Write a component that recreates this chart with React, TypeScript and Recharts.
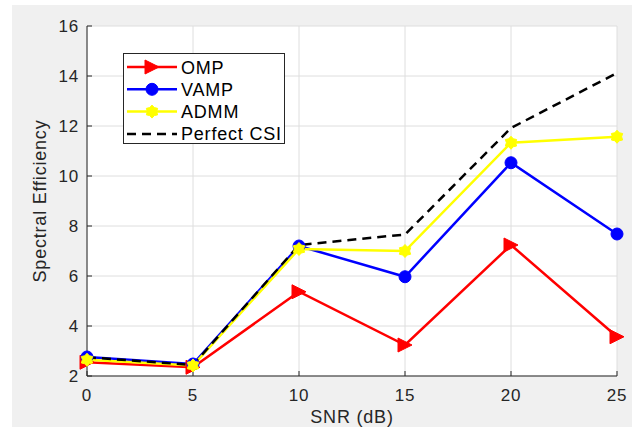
import React from "react";
import {
  CartesianGrid,
  Legend,
  Line,
  LineChart,
  XAxis,
  YAxis,
} from "recharts";

const snr = [0, 5, 10, 15, 20, 25];
const omp = [2.55, 2.35, 5.37, 3.24, 7.24, 3.57];
const vamp = [2.76, 2.48, 7.2, 5.97, 10.53, 7.68];
const admm = [2.65, 2.42, 7.08, 7.0, 11.33, 11.57];
const perfectCsi = [2.75, 2.44, 7.24, 7.66, 11.92, 14.12];

const xTicks = [0, 5, 10, 15, 20, 25];
const yTicks = [2, 4, 6, 8, 10, 12, 14, 16];

const data = snr.map((s, i) => ({
  snr: s,
  omp: omp[i],
  vamp: vamp[i],
  admm: admm[i],
  csi: perfectCsi[i],
}));

const ink = "#262626";
const tickStyle = { fill: ink, fontSize: 17 };

function Tri({ cx, cy }: { cx: number; cy: number }) {
  return (
    <polygon
      points={`${cx - 7},${cy - 7} ${cx + 7},${cy} ${cx - 7},${cy + 7}`}
      fill="#ff0000"
      stroke="#ff0000"
      strokeWidth={1}
    />
  );
}

function Dot({ cx, cy }: { cx: number; cy: number }) {
  return <circle cx={cx} cy={cy} r={6} fill="#0000ff" stroke="#0000ff" />;
}

// hexagram marker, drawn a bit plump like the MATLAB one
function Hex({ cx, cy }: { cx: number; cy: number }) {
  const pts: string[] = [];
  for (let k = 0; k < 12; k++) {
    const r = k % 2 === 0 ? 6.5 : 4.6;
    const a = (Math.PI / 6) * k - Math.PI / 2;
    pts.push(`${cx + r * Math.cos(a)},${cy + r * Math.sin(a)}`);
  }
  return <polygon points={pts.join(" ")} fill="#ffff00" stroke="#ffff00" />;
}

const entries = [
  { name: "OMP", color: "#ff0000", mark: Tri, dash: undefined },
  { name: "VAMP", color: "#0000ff", mark: Dot, dash: undefined },
  { name: "ADMM", color: "#ffff00", mark: Hex, dash: undefined },
  { name: "Perfect CSI", color: "#000000", mark: null, dash: "9 6" },
];

function LegendBox() {
  return (
    <svg width={163} height={92}>
      <rect x={0.5} y={0.5} width={161} height={90} fill="#fff" stroke={ink} />
      {entries.map((e, i) => {
        const y = 14 + i * 22.3;
        const M = e.mark;
        return (
          <g key={e.name}>
            <line
              x1={4}
              x2={54}
              y1={y}
              y2={y}
              stroke={e.color}
              strokeWidth={2.5}
              strokeDasharray={e.dash}
            />
            {M && <M cx={29} cy={y} />}
            <text x={58} y={y + 6.5} fontSize={18} fill="#000">
              {e.name}
            </text>
          </g>
        );
      })}
    </svg>
  );
}

export default function App() {
  return (
    <div
      style={{
        position: "absolute",
        left: 0,
        top: 0,
        width: 634,
        height: 430,
        background: "#fff",
        fontFamily: "'Liberation Sans', Arial, sans-serif",
        letterSpacing: "0.8px",
      }}
    >
      <div
        style={{
          position: "absolute",
          left: 12,
          top: 5,
          width: 620,
          height: 422,
          background: "#f0f0f0",
        }}
      />
      <div style={{ position: "absolute", left: 0, top: 0 }}>
        <LineChart
          width={634}
          height={430}
          data={data}
          margin={{ top: 26, right: 17, left: 0, bottom: 0 }}
        >
          <CartesianGrid stroke="#dedede" fill="#fff" />
          <XAxis
            dataKey="snr"
            type="number"
            domain={[0, 25]}
            ticks={xTicks}
            height={54}
            tickSize={-5}
            tickMargin={18}
            axisLine={{ stroke: ink }}
            tickLine={{ stroke: ink }}
            tick={tickStyle}
            label={{
              value: "SNR (dB)",
              position: "center",
              dy: 14,
              fill: ink,
              fontSize: 18,
            }}
          />
          <XAxis
            xAxisId="top"
            orientation="top"
            dataKey="snr"
            type="number"
            domain={[0, 25]}
            ticks={xTicks}
            height={0}
            tickSize={-5}
            tick={false}
            axisLine={{ stroke: ink }}
            tickLine={{ stroke: ink }}
          />
          <YAxis
            type="number"
            domain={[2, 16]}
            ticks={yTicks}
            width={87}
            tickSize={-5}
            tickMargin={13}
            axisLine={{ stroke: ink }}
            tickLine={{ stroke: ink }}
            tick={tickStyle}
            label={{
              value: "Spectral Efficiency",
              angle: -90,
              position: "center",
              dx: -4,
              fill: ink,
              fontSize: 18,
            }}
          />
          <YAxis
            yAxisId="right"
            orientation="right"
            type="number"
            domain={[2, 16]}
            ticks={yTicks}
            width={0}
            tickSize={-5}
            tick={false}
            axisLine={{ stroke: ink }}
            tickLine={{ stroke: ink }}
          />
          <Legend
            layout="vertical"
            align="center"
            verticalAlign="middle"
            wrapperStyle={{ left: 123, top: 53, width: 163, height: 92 }}
            content={() => <LegendBox />}
          />
          <Line
            dataKey="omp"
            stroke="#ff0000"
            strokeWidth={2.5}
            dot={(p: any) => <Tri key={p.key ?? p.index} cx={p.cx} cy={p.cy} />}
            isAnimationActive={false}
          />
          <Line
            dataKey="vamp"
            stroke="#0000ff"
            strokeWidth={2.5}
            dot={(p: any) => <Dot key={p.key ?? p.index} cx={p.cx} cy={p.cy} />}
            isAnimationActive={false}
          />
          <Line
            dataKey="admm"
            stroke="#ffff00"
            strokeWidth={2.5}
            dot={(p: any) => <Hex key={p.key ?? p.index} cx={p.cx} cy={p.cy} />}
            isAnimationActive={false}
          />
          <Line
            dataKey="csi"
            stroke="#000000"
            strokeWidth={2.5}
            strokeDasharray="9 6"
            dot={false}
            isAnimationActive={false}
          />
        </LineChart>
      </div>
    </div>
  );
}
